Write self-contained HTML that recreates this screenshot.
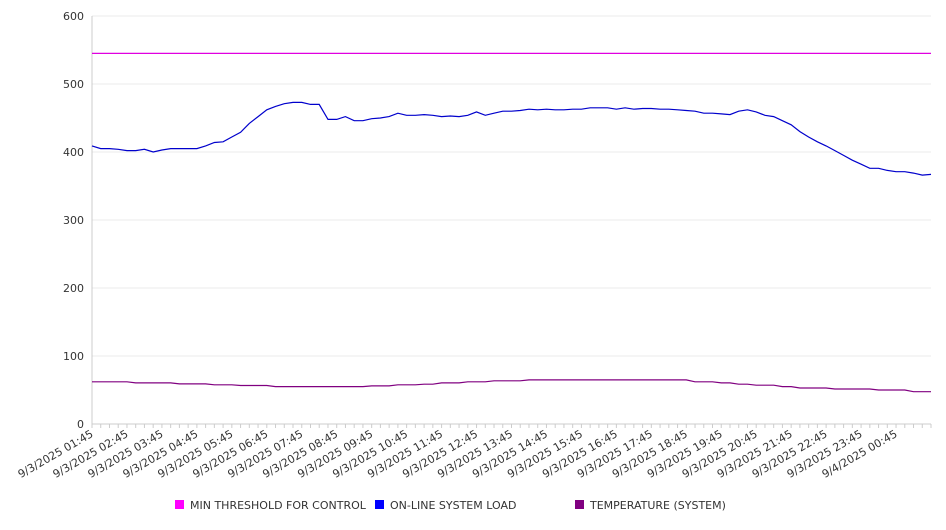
<!DOCTYPE html>
<html><head><meta charset="utf-8"><style>
body{margin:0;background:#fff;font-family:"DejaVu Sans","Liberation Sans",sans-serif;}
svg text{font-family:"DejaVu Sans","Liberation Sans",sans-serif;font-size:11px;fill:#333;}
</style></head><body>
<svg id="chart" width="946" height="526" viewBox="0 0 946 526" xmlns="http://www.w3.org/2000/svg"></svg>
<script>
const hourLabels=["9/3/2025 01:45","9/3/2025 02:45","9/3/2025 03:45","9/3/2025 04:45","9/3/2025 05:45","9/3/2025 06:45","9/3/2025 07:45","9/3/2025 08:45","9/3/2025 09:45","9/3/2025 10:45","9/3/2025 11:45","9/3/2025 12:45","9/3/2025 13:45","9/3/2025 14:45","9/3/2025 15:45","9/3/2025 16:45","9/3/2025 17:45","9/3/2025 18:45","9/3/2025 19:45","9/3/2025 20:45","9/3/2025 21:45","9/3/2025 22:45","9/3/2025 23:45","9/4/2025 00:45"];
const yTicks=[0,100,200,300,400,500,600];
const thresholdValue=545;
const systemLoad=[409,405,405,404,402,402,404,400,403,405,405,405,405,409,414,415,422,429,442,452,462,467,471,473,473,470,470,448,448,452,446,446,449,450,452,457,454,454,455,454,452,453,452,454,459,454,457,460,460,461,463,462,463,462,462,463,463,465,465,465,463,465,463,464,464,463,463,462,461,460,457,457,456,455,460,462,459,454,452,446,440,430,422,415,409,402,395,388,382,376,376,373,371,371,369,366,367];
const temperature=[62,62,62,62,62,60.5,60.5,60.5,60.5,60.5,59,59,59,59,57.6,57.6,57.6,56.6,56.6,56.6,56.6,55,55,55,55,55,55,55,55,55,55,55,56,56,56,57.6,57.6,57.6,58.6,58.6,60.5,60.5,60.5,62,62,62,63.5,63.5,63.5,63.5,64.8,64.8,64.8,64.8,64.8,64.8,64.8,64.8,64.8,64.8,64.8,64.8,64.8,64.8,64.8,64.8,64.8,64.8,64.8,62,62,62,60.5,60.5,58.6,58.6,57,57,57,55,55,53,53,53,53,51.5,51.5,51.5,51.5,51.5,50,50,50,50,47.5,47.5,47.5];
const pointsPerLabel=4;

const svg=document.getElementById('chart');
const NS='http://www.w3.org/2000/svg';
const L=92,R=931,T=16,B=424,yMax=600;
const n=systemLoad.length;
const xS=i=>L+(R-L)*i/(n-1);
const yS=v=>B-(B-T)*v/yMax;
function mk(tag,attrs,parent){const e=document.createElementNS(NS,tag);for(const k in attrs)e.setAttribute(k,attrs[k]);(parent||svg).appendChild(e);return e;}

yTicks.forEach(v=>{
  const g=mk('line',{x1:L,x2:R,y1:yS(v),y2:yS(v),stroke:v===0?'#ccc':'#ebebeb','stroke-width':1});
  
  
  const t=mk('text',{x:84,y:yS(v)+4,'text-anchor':'end'});
  t.textContent=v;
  
  
});
const ax=mk('line',{x1:L,x2:L,y1:T,y2:B,stroke:'#ccc'});


for(let i=0;i<n;i++){
  const tk=mk('line',{x1:xS(i),x2:xS(i),y1:B,y2:B+4,stroke:'#ccc'});
  
  
}
hourLabels.forEach((lab,k)=>{
  const x=xS(k*pointsPerLabel);
  const t=mk('text',{x:x+2,y:436,'text-anchor':'end',transform:`rotate(-30 ${x+2} 436)`});
  t.textContent=lab;
  
  
});
function line(arr,color,name){
  const d=arr.map((v,i)=>(i?'L':'M')+xS(i).toFixed(1)+' '+yS(v).toFixed(1)).join(' ');
  const p=mk('path',{d:d,fill:'none',stroke:color,'stroke-width':1.2});
  
  
}
const th=mk('line',{x1:L,x2:R,y1:yS(thresholdValue),y2:yS(thresholdValue),stroke:'#e000e0','stroke-width':1.2});


line(systemLoad,'#0000cc','system-load-line');
line(temperature,'#800080','temperature-line');

const legend=[["MIN THRESHOLD FOR CONTROL","#ff00ff",175],["ON-LINE SYSTEM LOAD","#0000ff",375],["TEMPERATURE (SYSTEM)","#800080",575]];
legend.forEach(([lab,c,x])=>{
  const r=mk('rect',{x:x,y:500,width:9,height:9,fill:c});
  
  
  const t=mk('text',{x:x+15,y:509});
  t.textContent=lab;
  
  
});
</script>
</body></html>
